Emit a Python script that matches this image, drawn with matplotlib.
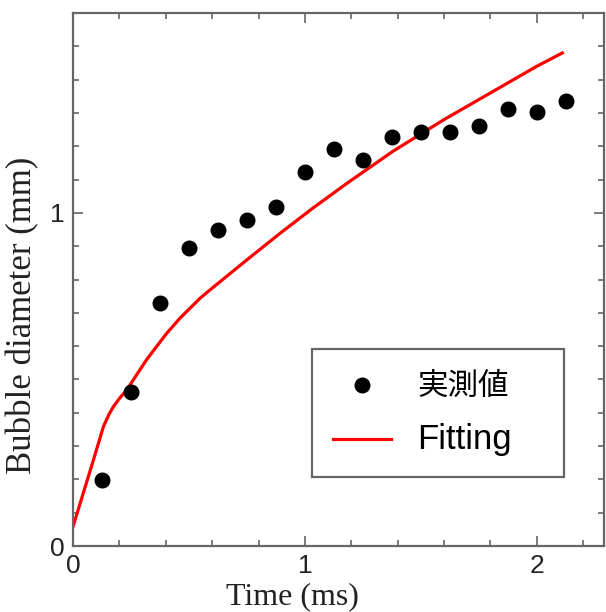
import matplotlib
matplotlib.use("Agg")
import matplotlib.pyplot as plt
from matplotlib.ticker import MultipleLocator

# measured bubble diameter
t_meas = [0.125, 0.25, 0.375, 0.5, 0.625, 0.75, 0.875, 1.0, 1.125, 1.25,
          1.375, 1.5, 1.625, 1.75, 1.875, 2.0, 2.125]
d_meas = [0.198, 0.462, 0.730, 0.895, 0.949, 0.979, 1.018, 1.123, 1.192, 1.159,
          1.228, 1.243, 1.243, 1.261, 1.312, 1.303, 1.336]

# fitting curve
t_fit = [0.0, 0.044, 0.088, 0.131, 0.155, 0.174, 0.2, 0.231, 0.317, 0.40, 0.46,
         0.55, 0.60, 0.75, 0.89, 1.03, 1.18, 1.38, 1.6, 1.8, 2.0, 2.11]
d_fit = [0.058, 0.158, 0.258, 0.358, 0.395, 0.418, 0.443, 0.468, 0.559, 0.635, 0.683,
         0.745, 0.774, 0.859, 0.937, 1.012, 1.088, 1.185, 1.28, 1.36, 1.44, 1.48]

frame_col = "#666666"
serif = ["Liberation Serif", "DejaVu Serif"]
sans = ["Liberation Sans", "DejaVu Sans"]

fig = plt.figure(figsize=(6.06, 6.12), dpi=100)
ax = fig.add_axes([73 / 606, 66 / 612, 531 / 606, 533 / 612])

ax.plot(t_meas, d_meas, "o", color="black", markersize=10.5, label="実測値", zorder=3)
ax.plot(t_fit, d_fit, "-", color="#ff0000", linewidth=2.3, label="Fitting", zorder=2)

ax.set_xlim(0, 2.29)
ax.set_ylim(0, 1.6)
ax.xaxis.set_major_locator(MultipleLocator(1))
ax.xaxis.set_minor_locator(MultipleLocator(0.2))
ax.yaxis.set_major_locator(MultipleLocator(1))
ax.yaxis.set_minor_locator(MultipleLocator(0.1))
ax.tick_params(which="both", direction="in", top=True, right=True,
               color=frame_col, width=1.2, labelsize=19, labelcolor="#222222")
ax.tick_params(which="major", length=7, pad=6)
ax.tick_params(which="minor", length=4)
for lab in ax.get_xticklabels() + ax.get_yticklabels():
    lab.set_family(sans)
for sp in ax.spines.values():
    sp.set_color(frame_col)
    sp.set_linewidth(1.6)

ax.set_xlabel("Time (ms)", family=serif, fontsize=23, color="#222222", labelpad=0)
ax.xaxis.set_label_coords(0.414, -0.068)
ax.set_ylabel("Bubble diameter (mm)", family=serif, fontsize=25, color="#222222")
ax.yaxis.set_label_coords(-0.063, 0.433)

leg = ax.legend(loc="lower left", bbox_to_anchor=(0.45, 0.13, 0.475, 0.243),
                mode="expand", fancybox=False, edgecolor=frame_col, framealpha=1,
                handlelength=2.2, handletextpad=1.0, borderpad=0.8, labelspacing=0.8,
                borderaxespad=0, prop={"size": 19})
leg.get_frame().set_linewidth(1.6)
txts = leg.get_texts()
txts[0].set_family(["Noto Sans CJK JP", "DejaVu Sans"])
txts[0].set_fontsize(22)
txts[1].set_family(sans)
txts[1].set_fontsize(25)

fig.savefig("out.png", dpi=100)
